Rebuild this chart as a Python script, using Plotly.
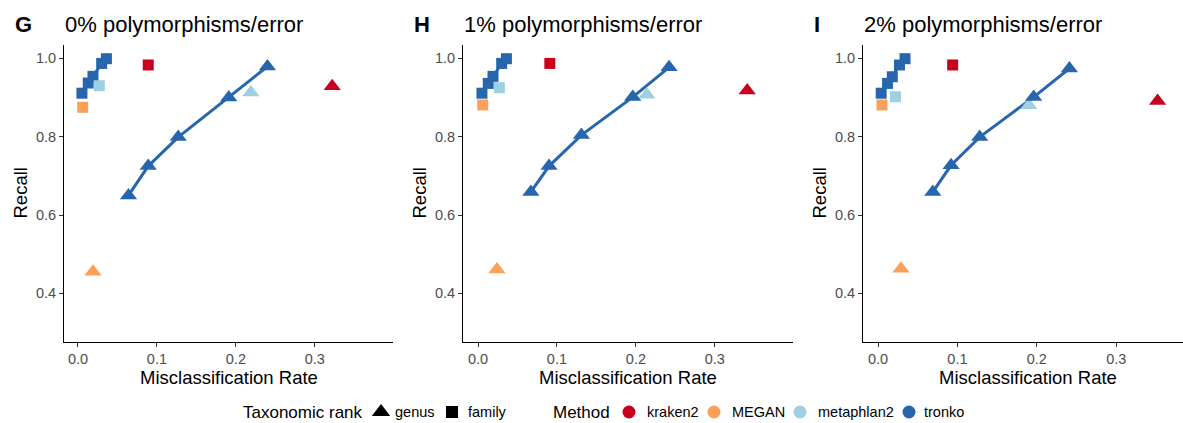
import plotly.graph_objects as go

W, H = 1183, 423

# ---------------- data ----------------
panel_letters = ["G", "H", "I"]
panel_titles = ["0% polymorphisms/error", "1% polymorphisms/error", "2% polymorphisms/error"]
methods = ["kraken2", "MEGAN", "metaphlan2", "tronko"]
ranks = ["genus", "family"]
x_tick_vals = [0.0, 0.1, 0.2, 0.3]
x_tick_text = ["0.0", "0.1", "0.2", "0.3"]
y_tick_vals = [0.4, 0.6, 0.8, 1.0]
y_tick_text = ["0.4", "0.6", "0.8", "1.0"]

# tronko (several thresholds) - genus
tronko_genus_mis = [
    [0.064, 0.089, 0.127, 0.191, 0.240],
    [0.067, 0.090, 0.131, 0.196, 0.242],
    [0.069, 0.092, 0.128, 0.196, 0.241],
]
tronko_genus_rec = [
    [0.650, 0.725, 0.799, 0.900, 0.979],
    [0.659, 0.725, 0.804, 0.901, 0.977],
    [0.659, 0.727, 0.799, 0.901, 0.974],
]
# tronko - family
tronko_family_mis = [
    [0.005, 0.013, 0.019, 0.030, 0.036],
    [0.005, 0.013, 0.019, 0.030, 0.036],
    [0.004, 0.012, 0.018, 0.027, 0.034],
]
tronko_family_rec = [
    [0.911, 0.937, 0.954, 0.987, 0.999],
    [0.911, 0.936, 0.954, 0.987, 0.999],
    [0.911, 0.936, 0.953, 0.983, 0.999],
]
# other methods, one value per panel  (order: kraken2, MEGAN, metaphlan2)
other_genus_mis = [
    [0.322, 0.019, 0.219],
    [0.341, 0.024, 0.214],
    [0.352, 0.029, 0.190],
]
other_genus_rec = [
    [0.929, 0.455, 0.913],
    [0.918, 0.461, 0.907],
    [0.891, 0.463, 0.880],
]
other_family_mis = [
    [0.089, 0.006, 0.027],
    [0.091, 0.006, 0.027],
    [0.094, 0.005, 0.022],
]
other_family_rec = [
    [0.983, 0.875, 0.930],
    [0.987, 0.881, 0.925],
    [0.983, 0.881, 0.902],
]

# ---------------- style ----------------
colors = {"kraken2": "#CA0020", "MEGAN": "#FBA059", "metaphlan2": "#9ECFE3", "tronko": "#2766AC"}
symbols = {"genus": "triangle-up", "family": "square"}
msize = {"genus": 15, "family": 11}
FONT = "Liberation Sans, Arial, sans-serif"

x_domains = [(64, 393), (463, 793), (863, 1183)]
x_ranges = [(-0.0177, 0.399), (-0.019, 0.399), (-0.0189, 0.384)]
y_range = (0.276, 1.034)
y_top_px, y_bot_px = 45, 342

def px_x(p):
    return p / W

def px_y(p):
    return 1 - p / H

fig = go.Figure()

for i in range(3):
    ax = "" if i == 0 else str(i + 1)
    xa, ya = "x" + ax, "y" + ax
    # tronko lines
    fig.add_trace(go.Scatter(x=tronko_family_mis[i], y=tronko_family_rec[i], mode="lines",
                             line=dict(color=colors["tronko"], width=3), xaxis=xa, yaxis=ya,
                             showlegend=False, hoverinfo="skip"))
    fig.add_trace(go.Scatter(x=tronko_genus_mis[i], y=tronko_genus_rec[i], mode="lines",
                             line=dict(color=colors["tronko"], width=3), xaxis=xa, yaxis=ya,
                             showlegend=False, hoverinfo="skip"))
    # tronko family squares
    fig.add_trace(go.Scatter(x=tronko_family_mis[i], y=tronko_family_rec[i], mode="markers",
                             marker=dict(symbol=symbols["family"], size=msize["family"],
                                         color=colors["tronko"], line=dict(width=0)),
                             xaxis=xa, yaxis=ya, showlegend=False))
    # other family squares
    for j, m in enumerate(methods[:3]):
        fig.add_trace(go.Scatter(x=[other_family_mis[i][j]], y=[other_family_rec[i][j]], mode="markers",
                                 marker=dict(symbol=symbols["family"], size=msize["family"],
                                             color=colors[m], line=dict(width=0)),
                                 xaxis=xa, yaxis=ya, showlegend=False))
    # other genus triangles
    for j, m in enumerate(methods[:3]):
        fig.add_trace(go.Scatter(x=[other_genus_mis[i][j]], y=[other_genus_rec[i][j]], mode="markers",
                                 marker=dict(symbol=symbols["genus"], size=msize["genus"],
                                             color=colors[m], line=dict(width=0)),
                                 xaxis=xa, yaxis=ya, showlegend=False))
    # tronko genus triangles
    fig.add_trace(go.Scatter(x=tronko_genus_mis[i], y=tronko_genus_rec[i], mode="markers",
                             marker=dict(symbol=symbols["genus"], size=msize["genus"],
                                         color=colors["tronko"], line=dict(width=0)),
                             xaxis=xa, yaxis=ya, showlegend=False))

    d0, d1 = x_domains[i]
    common_axis = dict(showline=True, linecolor="black", linewidth=1.1, showgrid=False, zeroline=False,
                       ticks="outside", ticklen=4, tickwidth=1, tickcolor="#333333",
                       tickfont=dict(family=FONT, size=14.5, color="#4D4D4D"))
    fig.update_layout(**{
        "xaxis" + ax: dict(common_axis, domain=[px_x(d0), px_x(d1)], range=list(x_ranges[i]),
                           tickvals=x_tick_vals, ticktext=x_tick_text, anchor=ya),
        "yaxis" + ax: dict(common_axis, domain=[px_y(y_bot_px), px_y(y_top_px)], range=list(y_range),
                           tickvals=y_tick_vals, ticktext=y_tick_text, anchor=xa),
    })
    # panel letter and title
    fig.add_annotation(text="<b>%s</b>" % panel_letters[i], xref="paper", yref="paper",
                       x=px_x(d0 - 51), y=px_y(25), xanchor="left", yanchor="middle", showarrow=False,
                       font=dict(family=FONT, size=22, color="black"))
    fig.add_annotation(text=panel_titles[i], xref="paper", yref="paper",
                       x=px_x(d0 - 1), y=px_y(25), xanchor="left", yanchor="middle", showarrow=False,
                       font=dict(family=FONT, size=22, color="black"))
    # axis titles
    fig.add_annotation(text="Misclassification Rate", xref="paper", yref="paper",
                       x=px_x(d0 + 165), y=px_y(377), xanchor="center",
                       yanchor="middle", showarrow=False, font=dict(family=FONT, size=18.5, color="black"))
    fig.add_annotation(text="Recall", xref="paper", yref="paper", textangle=-90,
                       x=px_x(d0 - 44), y=px_y((y_top_px + y_bot_px) / 2), xanchor="center",
                       yanchor="middle", showarrow=False, font=dict(family=FONT, size=18.5, color="black"))

# ---------------- legend (manual, bottom) ----------------
fig.update_layout(
    xaxis4=dict(domain=[0, 1], range=[0, W], visible=False, fixedrange=True),
    yaxis4=dict(domain=[0, 1], range=[H, 0], visible=False, fixedrange=True, anchor="x4"),
)
leg_y = 412
rank_keys = {"genus": (381, 393), "family": (452, 466)}
method_keys = {"kraken2": (629, 645), "MEGAN": (714, 730), "metaphlan2": (800, 816), "tronko": (909, 922)}

for r in ranks:
    kx, tx = rank_keys[r]
    fig.add_trace(go.Scatter(x=[kx], y=[leg_y], mode="markers", xaxis="x4", yaxis="y4",
                             marker=dict(symbol=symbols[r], size=msize[r] + 1, color="black", line=dict(width=0)),
                             showlegend=False, hoverinfo="skip"))
    fig.add_annotation(text=r, xref="paper", yref="paper", x=px_x(tx), y=px_y(leg_y),
                       xanchor="left", yanchor="middle", showarrow=False,
                       font=dict(family=FONT, size=14.5, color="black"))
for m in methods:
    kx, tx = method_keys[m]
    fig.add_trace(go.Scatter(x=[kx], y=[leg_y], mode="markers", xaxis="x4", yaxis="y4",
                             marker=dict(symbol="circle", size=13, color=colors[m], line=dict(width=0)),
                             showlegend=False, hoverinfo="skip"))
    fig.add_annotation(text=m, xref="paper", yref="paper", x=px_x(tx), y=px_y(leg_y),
                       xanchor="left", yanchor="middle", showarrow=False,
                       font=dict(family=FONT, size=14.5, color="black"))
fig.add_annotation(text="Taxonomic rank", xref="paper", yref="paper", x=px_x(241), y=px_y(leg_y),
                   xanchor="left", yanchor="middle", showarrow=False, font=dict(family=FONT, size=17, color="black"))
fig.add_annotation(text="Method", xref="paper", yref="paper", x=px_x(551), y=px_y(leg_y),
                   xanchor="left", yanchor="middle", showarrow=False, font=dict(family=FONT, size=17, color="black"))

fig.update_layout(width=W, height=H, margin=dict(l=0, r=0, t=0, b=0),
                  paper_bgcolor="white", plot_bgcolor="rgba(0,0,0,0)", showlegend=False,
                  font=dict(family=FONT))

fig.write_html("out.html", config={"displayModeBar": False})
